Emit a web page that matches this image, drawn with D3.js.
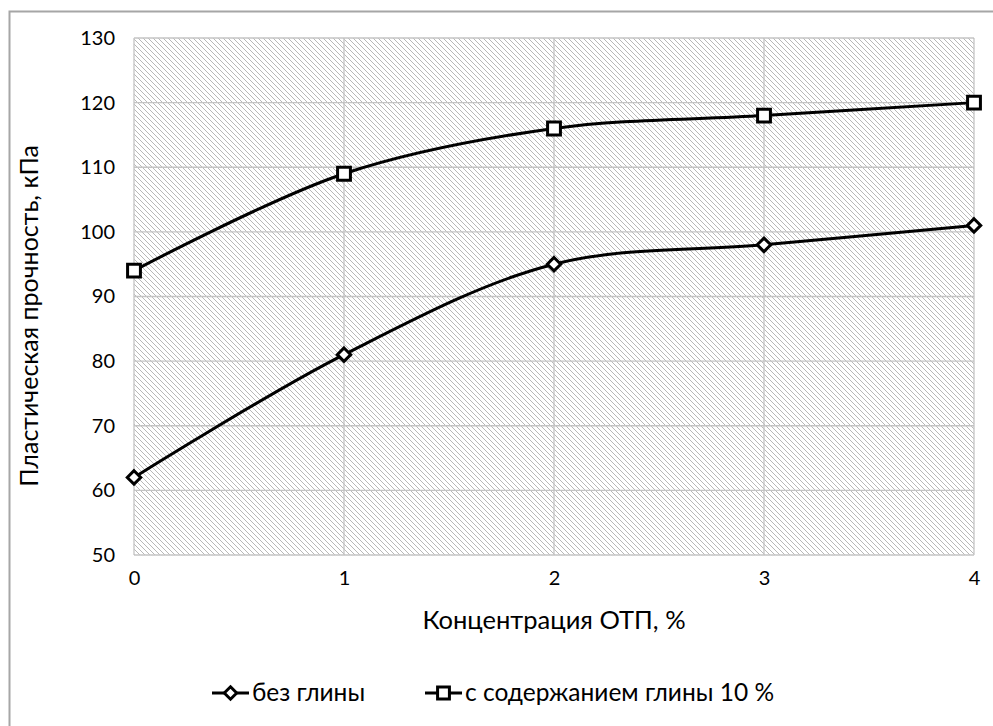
<!DOCTYPE html>
<html>
<head>
<meta charset="utf-8">
<script src="https://cdn.jsdelivr.net/npm/d3@7"></script>
<style>
  body { margin: 0; background: #fff; }
  text { font-family: Lato, "Open Sans", sans-serif; fill: #000; }
</style>
</head>
<body>
<div id="chart"></div>
<script>
// data
const concentrations = [0, 1, 2, 3, 4];
const withoutClay = [62, 81, 95, 98, 101];
const withClay10 = [94, 109, 116, 118, 120];
const yTicks = [50, 60, 70, 80, 90, 100, 110, 120, 130];
const seriesNames = ["без глины", "с содержанием глины 10 %"];

const width = 993, height = 726;
const margin = { left: 134, right: 19, top: 38, bottom: 171 };

const svg = d3.select("#chart").append("svg")
    .attr("width", width)
    .attr("height", height);

// outer chart frame
svg.append("rect")
    .attr("x", 9.5).attr("y", 11.5)
    .attr("width", width + 20).attr("height", height + 20)
    .attr("fill", "none")
    .attr("stroke", "#a6a6a6")
    .attr("stroke-width", 2);

const x = d3.scaleLinear().domain([0, 4]).range([margin.left, width - margin.right]);
const y = d3.scaleLinear().domain([50, 130]).range([height - margin.bottom, margin.top]);

// hatch pattern for the plot area
const defs = svg.append("defs");
const pat = defs.append("pattern")
    .attr("id", "hatch")
    .attr("patternUnits", "userSpaceOnUse")
    .attr("width", 5).attr("height", 5);
pat.append("path")
    .attr("d", "M0,0 L5,5 M-1,4 L1,6 M4,-1 L6,1")
    .attr("stroke", "#b8b8b8")
    .attr("stroke-width", 1);

svg.append("rect")
    .attr("x", x(0)).attr("y", y(130))
    .attr("width", x(4) - x(0)).attr("height", y(50) - y(130))
    .attr("fill", "url(#hatch)");

// gridlines
svg.append("g").selectAll("line")
    .data(yTicks)
    .join("line")
    .attr("x1", x(0)).attr("x2", x(4))
    .attr("y1", d => y(d)).attr("y2", d => y(d))
    .attr("stroke", "#c4c4c4")
    .attr("stroke-width", 1.3);

svg.append("g").selectAll("line")
    .data(concentrations)
    .join("line")
    .attr("x1", d => x(d)).attr("x2", d => x(d))
    .attr("y1", y(130)).attr("y2", y(50))
    .attr("stroke", "#c4c4c4")
    .attr("stroke-width", 1.3);

// tick labels
const yAxis = d3.axisLeft(y).tickValues(yTicks).tickSize(0).tickPadding(19);
svg.append("g")
    .attr("transform", `translate(${x(0)},0)`)
    .call(yAxis)
    .call(g => g.select(".domain").remove())
    .selectAll("text")
    .style("font-size", "20px");

const xAxis = d3.axisBottom(x).tickValues(concentrations).tickFormat(d3.format("d")).tickSize(0).tickPadding(16);
svg.append("g")
    .attr("transform", `translate(0,${y(50)})`)
    .call(xAxis)
    .call(g => g.select(".domain").remove())
    .selectAll("text")
    .style("font-size", "20px");

// axis titles
svg.append("text")
    .attr("x", (x(0) + x(4)) / 2)
    .attr("y", 629)
    .attr("text-anchor", "middle")
    .style("font-size", "25.5px")
    .text("Концентрация ОТП, %");

svg.append("text")
    .attr("transform", `translate(38,316) rotate(-90)`)
    .attr("text-anchor", "middle")
    .style("font-size", "25px")
    .text("Пластическая прочность, кПа");

// lines
const line = d3.line()
    .x(d => x(d[0]))
    .y(d => y(d[1]))
    .curve(d3.curveCatmullRom.alpha(0.5));

const series = [
    { name: seriesNames[0], values: withoutClay, marker: d3.symbolDiamond2, size: 115 },
    { name: seriesNames[1], values: withClay10, marker: d3.symbolSquare2, size: 210 }
];

series.forEach(s => {
    const pts = concentrations.map((c, i) => [c, s.values[i]]);
    svg.append("path")
        .datum(pts)
        .attr("d", line)
        .attr("fill", "none")
        .attr("stroke", "#000")
        .attr("stroke-width", 3);

    svg.append("g").selectAll("path")
        .data(pts)
        .join("path")
        .attr("transform", d => `translate(${x(d[0])},${y(d[1])})`)
        .attr("d", d3.symbol().type(s.marker).size(s.size))
        .attr("fill", "#fff")
        .attr("stroke", "#000")
        .attr("stroke-width", 3);
});

// legend
const legendY = 693;
const legendX = [212, 425];
series.forEach((s, i) => {
    const g = svg.append("g").attr("transform", `translate(${legendX[i]},${legendY})`);
    g.append("line")
        .attr("x1", 0).attr("x2", 37)
        .attr("y1", 0).attr("y2", 0)
        .attr("stroke", "#000")
        .attr("stroke-width", 3);
    g.append("path")
        .attr("transform", "translate(18.5,0)")
        .attr("d", d3.symbol().type(s.marker).size(s.size * 0.85))
        .attr("fill", "#fff")
        .attr("stroke", "#000")
        .attr("stroke-width", 3);
    g.append("text")
        .attr("x", 40)
        .attr("y", 8)
        .style("font-size", "24.5px")
        .text(s.name);
});
</script>
</body>
</html>
